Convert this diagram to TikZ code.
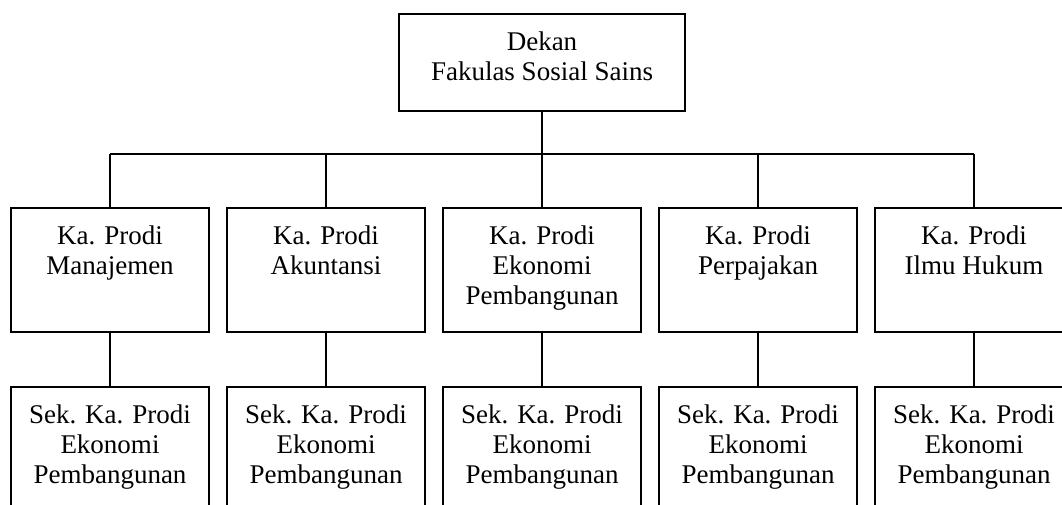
\documentclass[tikz,border=0pt]{standalone}
\usepackage{fontspec}
\setmainfont{Liberation Serif}
\begin{document}
\begin{tikzpicture}[x=0.75pt,y=-0.75pt,
  frame/.style={draw, line width=1.4pt, inner sep=0pt, minimum width=148.5pt},
  midbox/.style={frame, minimum height=93pt},
  lowbox/.style={frame, minimum height=114.75pt},
  topbox/.style={frame, minimum width=214.5pt, minimum height=72.75pt},
  txt/.style={font=\fontsize{20.25pt}{22.5pt}\selectfont, align=center, inner sep=0pt, anchor=north},
  conn/.style={line width=1.4pt}]
\clip (0,0) rectangle (1062,504);
\node[topbox] (top) at (542,62.5) {};
\node[txt] (topt) at ([yshift=-13.5pt]top.north) {Dekan\\Fakulas Sosial Sains};
\foreach \i/\x/\lbl in {1/110/{Ka. Prodi\\Manajemen},2/326/{Ka. Prodi\\Akuntansi},3/542/{Ka. Prodi\\Ekonomi\\Pembangunan},4/758/{Ka. Prodi\\Perpajakan},5/974/{Ka. Prodi\\Ilmu Hukum}}{
  \node[midbox] (m\i) at (\x,270) {};
  \node[txt] (m\i t) at ([yshift=-13.5pt]m\i.north) {\lbl};
  \node[lowbox] (s\i) at (\x,463.5) {};
  \node[txt] (s\i t) at ([yshift=-13.5pt]s\i.north) {Sek. Ka. Prodi\\Ekonomi\\Pembangunan};
}
\coordinate (bl) at (110,154);
\coordinate (br) at (974,154);
\draw[conn] (top.south) -- (top.south |- bl);
\draw[conn] (bl) -- (br);
\foreach \i in {1,...,5}{
  \draw[conn] (m\i.north) -- (m\i.north |- bl);
  \draw[conn] (m\i.south) -- (s\i.north);
}
\end{tikzpicture}
\end{document}
